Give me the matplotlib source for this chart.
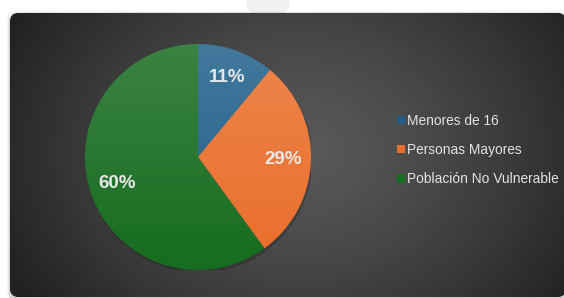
import numpy as np
import matplotlib.pyplot as plt
from matplotlib.patches import FancyBboxPatch, Circle, Ellipse

plt.rcParams['font.family'] = ['Liberation Sans', 'DejaVu Sans']

# data
categories = ["Menores de 16", "Personas Mayores", "Población No Vulnerable"]
shares = [11, 29, 60]
colors = ["#1f5f8a", "#ea6e2a", "#166c1f"]

W, H = 564, 298
fig = plt.figure(figsize=(W / 100, H / 100), dpi=100)
fig.patch.set_facecolor("white")

# background axes in pixel coordinates
bg = fig.add_axes([0, 0, 1, 1])
bg.set_xlim(0, W)
bg.set_ylim(H, 0)
bg.axis("off")

# faint watermark at top
bg.add_patch(Ellipse((268, 2), 44, 30, facecolor="#f0f0f0", edgecolor="none", zorder=0))

# soft shadow behind panel
for i, a in enumerate([0.04, 0.06, 0.08]):
    d = 3 - i
    bg.add_patch(FancyBboxPatch((10 - d, 13 - d + 1), 560, 290,
                                boxstyle="round,pad=0,rounding_size=10",
                                facecolor="black", edgecolor="none", alpha=a, zorder=1))

panel = FancyBboxPatch((10, 13), 556, 284, boxstyle="round,pad=0,rounding_size=9",
                       facecolor="#333333", edgecolor="none", zorder=2)
bg.add_patch(panel)

# radial gradient fill of panel
yy, xx = np.mgrid[0:H, 0:W]
dist = np.sqrt(((xx - 300) / 330.0) ** 2 + ((yy - 150) / 260.0) ** 2)
lum = np.clip(0.35 - 0.22 * dist ** 1.3, 0.13, 0.35)
img = np.dstack([lum, lum, lum])
im = bg.imshow(img, extent=(0, W, H, 0), zorder=3, interpolation="bilinear")
im.set_clip_path(panel)

# pie axes
cx, cy, r = 198, 157, 113
ax = fig.add_axes([(cx - r) / W, (H - cy - r) / H, 2 * r / W, 2 * r / H])
ax.axis("off")

# pie shadow
ax.add_patch(Circle((0.012, -0.02), 1.005, facecolor="black", alpha=0.18, edgecolor="none", zorder=0))

wedges, texts, autotexts = ax.pie(
    shares, colors=colors, startangle=90, counterclock=False,
    autopct="%d%%", pctdistance=0.75,
    textprops=dict(color="#e8e8e8", fontsize=13.5, fontweight="bold"),
    wedgeprops=dict(linewidth=0, zorder=1))
for t in autotexts:
    t.set_zorder(5)

# lighter top gradient on the pie
grad = np.linspace(0.16, 0.0, 200)[:, None] * np.ones((1, 10))
over = np.dstack([np.ones_like(grad)] * 3 + [grad])
gim = ax.imshow(over, extent=(-1, 1, -1, 1), zorder=2, aspect="auto")
gim.set_clip_path(Circle((0, 0), 1, transform=ax.transData))
ax.set_xlim(-1, 1)
ax.set_ylim(-1, 1)

leg = fig.legend(wedges, categories, loc="center left",
                 bbox_to_anchor=(397 / W, 1 - 150 / H), frameon=False,
                 handlelength=0.55, handleheight=0.55, handletextpad=0.15,
                 labelspacing=1.12, borderpad=0, borderaxespad=0,
                 prop=dict(size=9.9))
for t in leg.get_texts():
    t.set_color("#e4e4e4")

fig.savefig("out.png", dpi=100, facecolor="white")
